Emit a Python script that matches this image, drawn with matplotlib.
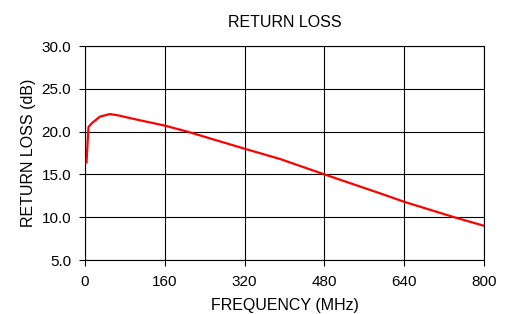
import matplotlib
matplotlib.use("Agg")
import matplotlib.pyplot as plt
from matplotlib.ticker import FormatStrFormatter

plt.rcParams["font.family"] = ["Liberation Sans", "DejaVu Sans"]

# values
freq_mhz = [3, 7, 15, 30, 50, 66, 100, 160, 205, 320, 391, 480, 591, 640, 740, 800]
return_loss_db = [16.4, 20.55, 21.05, 21.75, 22.05, 21.9, 21.45, 20.7, 20.0,
                  18.0, 16.8, 15.0, 12.8, 11.8, 10.0, 9.0]

x_ticks = [0, 160, 320, 480, 640, 800]
y_ticks = [5, 10, 15, 20, 25, 30]

fig = plt.figure(figsize=(5.1, 3.14), dpi=100)
ax = fig.add_axes([85 / 510, 54 / 314, 399 / 510, 214 / 314])

ax.plot(freq_mhz, return_loss_db, color="#ff0000", linewidth=1.6, zorder=3,
        solid_joinstyle="round")

ax.set_xlim(0, 800)
ax.set_ylim(5, 30)
ax.set_xticks(x_ticks)
ax.set_yticks(y_ticks)
ax.yaxis.set_major_formatter(FormatStrFormatter("%.1f"))
ax.grid(True, color="black", linewidth=0.8)
ax.tick_params(direction="out", length=4, width=0.8, labelsize=11)
ax.tick_params(axis="x", pad=7)
ax.tick_params(axis="y", pad=6)
for s in ax.spines.values():
    s.set_color("black")
    s.set_linewidth(0.8)

ax.set_xlabel("FREQUENCY (MHz)", fontsize=11.5, labelpad=6)
ax.set_ylabel("RETURN LOSS (dB)", fontsize=11.5, labelpad=4)
ax.set_title("RETURN LOSS", fontsize=11.5, pad=14)

fig.savefig("out.png", dpi=100)
